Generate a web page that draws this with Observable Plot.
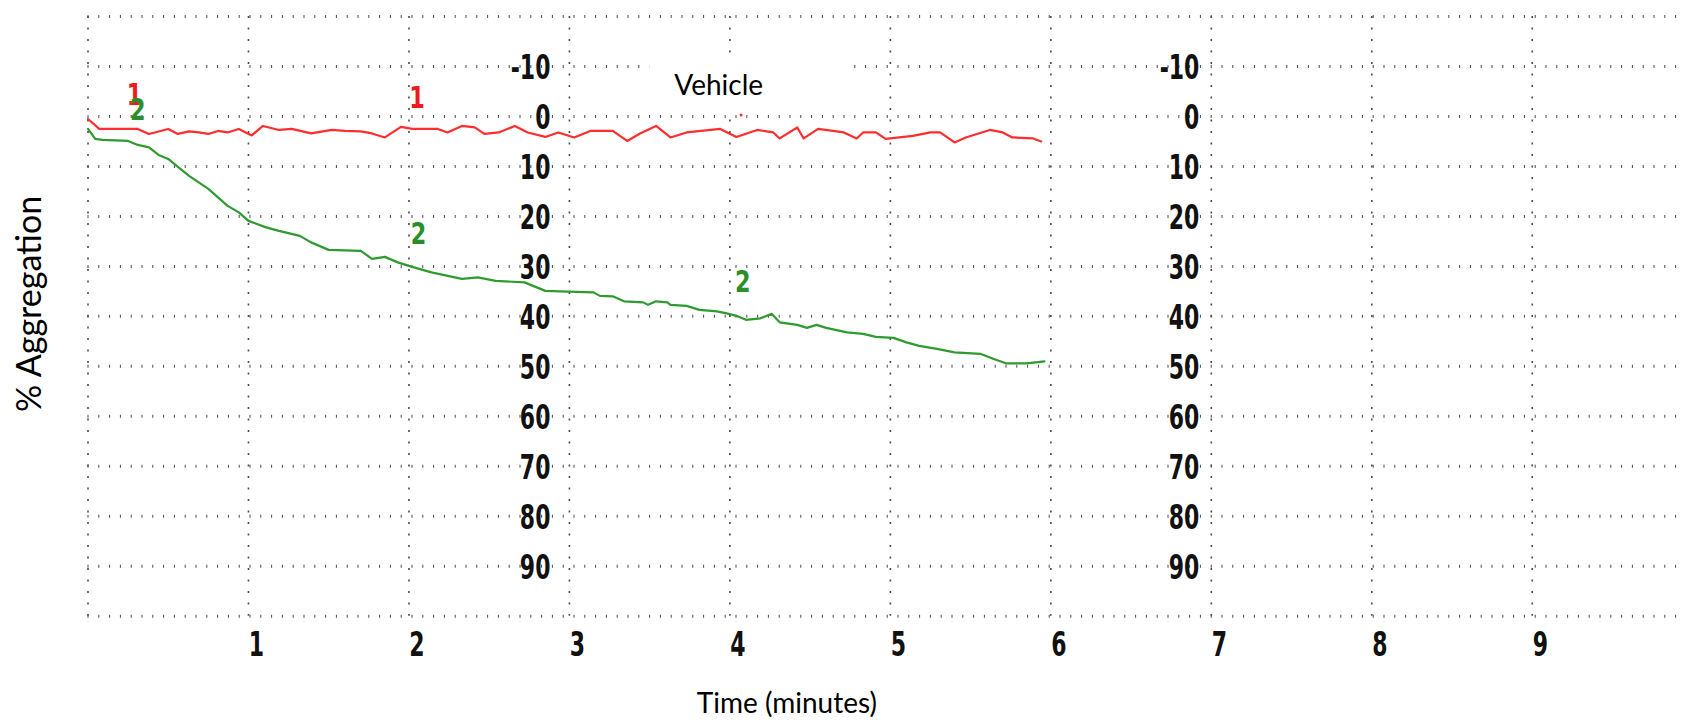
<!DOCTYPE html>
<html>
<head>
<meta charset="utf-8">
<script src="https://cdn.jsdelivr.net/npm/d3@7"></script>
<script src="https://cdn.jsdelivr.net/npm/@observablehq/plot@0.6"></script>
<style>
  html, body { margin: 0; padding: 0; background: #fff; }
  #chart svg { display: block; }
</style>
</head>
<body>
<div id="chart"></div>
<script>
// ---- Data ----
// Trace 1 (Vehicle, red): time in minutes, % aggregation
const redTime = [0.00,0.07,0.31,0.38,0.44,0.50,0.56,0.63,0.69,0.75,0.81,0.87,0.94,1.02,1.09,1.19,1.27,1.39,1.52,1.60,1.70,1.77,1.85,1.95,2.02,2.18,2.24,2.33,2.41,2.47,2.56,2.66,2.74,2.85,2.93,3.03,3.13,3.27,3.36,3.44,3.54,3.63,3.73,3.94,4.04,4.17,4.27,4.31,4.42,4.46,4.55,4.71,4.79,4.83,4.91,4.97,5.14,5.25,5.31,5.40,5.47,5.62,5.70,5.76,5.89,5.94];
const redValue = [0.5,2.5,2.5,3.5,3.0,2.5,3.5,3.0,3.2,3.5,2.9,3.2,2.5,3.8,1.9,2.7,2.5,3.4,2.7,2.9,3.0,3.4,4.2,2.1,2.5,2.5,3.2,1.9,2.2,3.5,3.2,1.9,3.2,4.1,3.2,4.2,2.9,2.9,4.9,3.4,1.9,4.2,3.2,2.5,4.1,2.7,3.2,4.4,2.2,4.4,2.5,3.2,4.4,3.2,3.2,4.5,3.9,3.2,3.2,5.2,4.2,2.7,3.2,4.2,4.4,5.0];

// Trace 2 (green)
const greenTime = [0.00,0.045,0.09,0.25,0.31,0.38,0.44,0.50,0.56,0.63,0.69,0.75,0.81,0.87,0.94,1.00,1.11,1.19,1.32,1.39,1.50,1.70,1.77,1.85,1.93,2.02,2.14,2.33,2.43,2.54,2.72,2.85,2.94,3.15,3.19,3.27,3.34,3.46,3.49,3.54,3.61,3.63,3.73,3.81,3.92,3.98,4.04,4.10,4.19,4.26,4.31,4.42,4.48,4.54,4.60,4.73,4.83,4.91,5.02,5.10,5.18,5.29,5.40,5.56,5.64,5.72,5.85,5.96];
const greenValue = [2.5,4.5,4.7,4.9,5.7,6.2,7.7,8.5,10.1,11.9,13.2,14.5,16.2,17.9,19.2,20.9,22.2,22.9,23.9,25.2,26.7,26.9,28.5,28.1,29.2,30.1,31.2,32.5,32.2,32.9,33.2,34.9,35.0,35.2,35.9,36.0,37.0,37.2,37.7,37.0,37.2,37.7,37.9,38.7,39.0,39.4,39.9,40.7,40.4,39.5,41.2,41.7,42.3,41.7,42.3,43.2,43.5,44.1,44.3,45.2,45.9,46.5,47.2,47.5,48.5,49.4,49.4,49.0];

// Stray red speck near the "Vehicle" label
const redSpeck = [{t: 4.07, v: -0.3}];

// Trace number markers drawn on the chart
const marker1 = [{t: 0.29, v: -4.3}, {t: 2.05, v: -3.7}];
const marker2 = [{t: 0.31, v: -1.3}, {t: 2.06, v: 23.5}, {t: 4.08, v: 33.1}];

// Axis tick labels and grid
const yTickLabels = [-10, 0, 10, 20, 30, 40, 50, 60, 70, 80, 90];
const xTickLabels = [1, 2, 3, 4, 5, 6, 7, 8, 9];
const gridY = [-20, -10, 0, 10, 20, 30, 40, 50, 60, 70, 80, 90, 100];
const gridX = [0, 1, 2, 3, 4, 5, 6, 7, 8, 9];

// Texts
const annotationText = "Vehicle";
const annotationPos = [{t: 3.93, v: -6.0}];
const annotationBox = [{x1: 3.50, x2: 4.77, y1: -11.6, y2: -0.8}];
const xTitle = "Time (minutes)";
const xTitlePos = [{t: 4.355, v: 117.6}];
const yTitle = "% Aggregation";
const yTitlePos = [{t: -0.36, v: 37.5}];

// ---- Build ----
const red = redTime.map((t, i) => ({t, v: redValue[i]}));
const green = greenTime.map((t, i) => ({t, v: greenValue[i]}));

const narrow = "'Liberation Sans Narrow', 'DejaVu Sans Condensed', 'Arial Narrow', sans-serif";
const markerFont = "'DejaVu Sans Condensed', 'Liberation Sans Narrow', sans-serif";
const human = "Lato, 'Open Sans', sans-serif";
const gridColor = "#4a4a4a";

const chart = Plot.plot({
  width: 1681,
  height: 721,
  marginLeft: 87.5,
  marginRight: 0,
  marginTop: 16,
  marginBottom: 105.3,
  x: {domain: [0, 9.93], axis: null},
  y: {domain: [-20, 100], reverse: true, axis: null},
  style: {background: "#fff", overflow: "visible"},
  marks: [
    Plot.ruleY(gridY, {y: d => d, stroke: gridColor, strokeWidth: 3, strokeDasharray: "1 9.8"}),
    Plot.ruleX(gridX, {x: d => d, stroke: gridColor, strokeWidth: 1.6, strokeDasharray: "2 9.5"}),
    Plot.rect(annotationBox, {x1: "x1", x2: "x2", y1: "y1", y2: "y2", fill: "#fff"}),
    Plot.text(yTickLabels, {x: () => 3, y: d => d, text: d => String(d), textAnchor: "end", dx: -19, dy: 2,
      fontSize: 33, fontWeight: "bold", fontFamily: narrow, fill: "#111"}),
    Plot.text(yTickLabels, {x: () => 7, y: d => d, text: d => String(d), textAnchor: "end", dx: -12, dy: 2,
      fontSize: 33, fontWeight: "bold", fontFamily: narrow, fill: "#111"}),
    Plot.text(xTickLabels, {x: d => d, y: () => 100, text: d => String(d), dx: 8, dy: 29,
      fontSize: 33, fontWeight: "bold", fontFamily: narrow, fill: "#111"}),
    Plot.line(green, {x: "t", y: "v", stroke: "#2f9a2f", strokeWidth: 2.2}),
    Plot.line(red, {x: "t", y: "v", stroke: "#ff2d2d", strokeWidth: 2.2}),
    Plot.dot(redSpeck, {x: "t", y: "v", r: 1.5, fill: "#ff2d2d"}),
    Plot.text(marker1, {x: "t", y: "v", text: () => "1", fontSize: 31, fontWeight: 600, fontFamily: markerFont, fill: "#ee1c1c"}),
    Plot.text(marker2, {x: "t", y: "v", text: () => "2", fontSize: 31, fontWeight: 600, fontFamily: markerFont, fill: "#2a8f2a"}),
    Plot.text(annotationPos, {x: "t", y: "v", text: () => annotationText, fontSize: 28, fontFamily: human, fill: "#000"}),
    Plot.text(xTitlePos, {x: "t", y: "v", text: () => xTitle, fontSize: 28, fontFamily: human, fill: "#000"}),
    Plot.text(yTitlePos, {x: "t", y: "v", text: () => yTitle, rotate: -90, fontSize: 34, fontFamily: human, fill: "#000"})
  ]
});

// Condense the bitmap-like tick digits horizontally to match the instrument font
d3.select(chart).selectAll("g").filter(function () {
  return this.getAttribute("font-family") === narrow;
}).selectAll("text").each(function () {
  const t = this.getAttribute("transform") || "";
  this.setAttribute("transform", t + " scale(0.74,1.03)");
});
d3.select(chart).selectAll("g").filter(function () {
  return this.getAttribute("font-family") === markerFont;
}).selectAll("text").each(function () {
  const t = this.getAttribute("transform") || "";
  this.setAttribute("transform", t + " scale(0.8,1)");
});

document.getElementById("chart").appendChild(chart);
</script>
</body>
</html>
